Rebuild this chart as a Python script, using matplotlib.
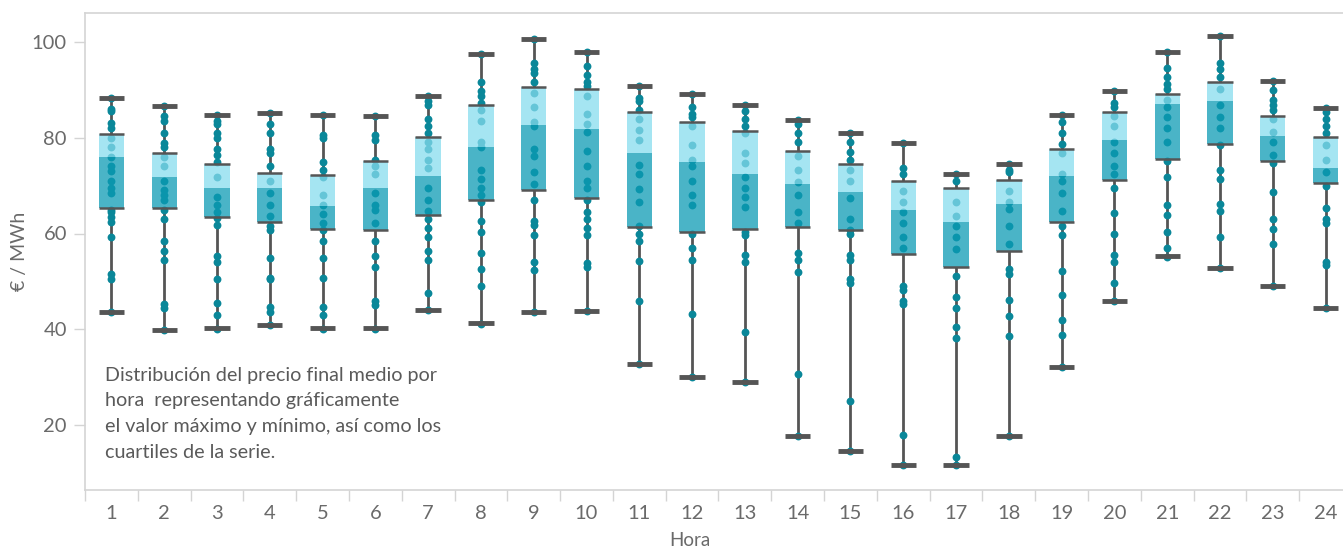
import matplotlib
matplotlib.use('Agg')
from matplotlib import pyplot as plt
from matplotlib.patches import Rectangle

plt.rcParams['font.family'] = ['Lato', 'DejaVu Sans']

horas = list(range(1, 25))

# resumen por hora: maximo, Q3, mediana, Q1, minimo
maximos = [88.3, 86.7, 84.8, 85.2, 84.8, 84.6, 88.75, 97.6, 100.7, 98.0, 90.9, 89.2,
           86.9, 83.75, 81.0, 78.9, 72.4, 74.5, 84.8, 89.8, 98.0, 101.2, 91.9, 86.25]
q3 = [80.7, 76.8, 74.6, 72.6, 72.2, 75.1, 80.1, 86.9, 90.7, 90.1, 85.4, 83.3,
      81.5, 77.3, 74.6, 71.0, 69.4, 71.2, 77.6, 85.4, 89.2, 91.6, 84.5, 80.1]
medianas = [76.0, 71.8, 69.6, 69.6, 65.7, 69.4, 72.1, 78.0, 82.6, 81.8, 76.8, 74.9,
            72.4, 70.3, 68.6, 65.0, 62.3, 66.1, 72.1, 79.5, 87.1, 87.6, 80.4, 73.6]
q1 = [65.4, 65.4, 63.4, 62.4, 60.9, 60.7, 63.8, 67.0, 69.0, 67.4, 61.3, 60.3,
      60.9, 61.3, 60.7, 55.7, 52.9, 56.4, 62.4, 71.2, 75.5, 78.75, 75.1, 70.5]
minimos = [43.5, 39.9, 40.3, 40.9, 40.3, 40.3, 44.1, 41.4, 43.5, 43.9, 32.8, 30.1,
           29.0, 17.6, 14.6, 11.6, 11.6, 17.6, 32.1, 46.0, 55.2, 52.7, 49.1, 44.5]

# precios diarios por hora
precios = [
    [88.3, 86, 85.5, 83, 82, 80, 78, 76, 74, 73, 71, 69.5, 68.5, 65, 64.5, 63.5, 62.5, 59.3, 51.5, 50.5, 43.5],
    [86.7, 84.5, 83.5, 81, 79, 78, 76, 74, 71, 69, 68, 67, 65, 63, 58.5, 56.3, 54.5, 45.3, 44.5, 39.8],
    [84.8, 83.5, 82.8, 81, 80, 77.6, 76.5, 75, 71.8, 67.7, 66, 64.5, 63.3, 61.8, 55.2, 54, 50.4, 45.4, 42.9, 40.1],
    [85.2, 82.8, 81, 77.6, 76.9, 74, 71, 68.5, 65.9, 63.7, 61.5, 60.7, 54.9, 50.8, 50.4, 44.7, 43.5, 40.9],
    [84.8, 80.6, 79.9, 75, 73.2, 71.8, 68.1, 65.9, 64, 62.2, 60.7, 58.5, 54.9, 50.8, 44.6, 42.9, 40.1],
    [84.6, 80.6, 79.5, 75.4, 74, 72.5, 68.5, 66, 65, 62.2, 58.5, 55.2, 53, 46, 45, 40.1],
    [88.75, 87.6, 86.8, 83.9, 82.4, 81, 79.1, 77.7, 75.4, 73.6, 69.6, 67, 64.8, 63, 61.1, 59.3, 56.3, 54.5, 47.5, 44],
    [97.6, 91.6, 89.8, 88.7, 87.2, 85.7, 83.5, 79.1, 78, 73.2, 71.4, 69.6, 68.1, 66.6, 62.6, 60.4, 56, 52.6, 49, 41.2],
    [100.7, 95.7, 94.3, 93.5, 91.6, 89.4, 86.5, 83.2, 82.4, 77.6, 76.2, 72.9, 70.3, 67, 62.6, 61.8, 59.6, 54.1, 52.3, 43.5],
    [98, 94.9, 93.1, 91.6, 90.9, 88.7, 85, 82.8, 81.3, 77.3, 74, 71, 69.6, 67, 64.4, 63, 61.1, 59.6, 53.8, 53, 43.8],
    [90.9, 88.3, 87.6, 85.7, 83.9, 81.7, 79.5, 74.3, 72.5, 69.2, 66.6, 61.5, 60, 58.5, 54.3, 45.8, 32.8],
    [89.2, 86.5, 85, 84.3, 82.4, 78.4, 75.4, 74, 71, 68, 65.9, 60, 57, 54.5, 43.1, 30.1],
    [86.9, 85.5, 84, 82.4, 81, 76.9, 74.7, 71.8, 69.6, 67.7, 65.5, 60.4, 59.6, 55.6, 54.1, 39.4, 29],
    [83.75, 82.8, 81, 79.1, 76.2, 73.2, 70.7, 68.1, 64.4, 62.2, 56, 54.5, 52, 30.6, 17.6],
    [81, 79.1, 77, 75.4, 73.2, 71, 67.4, 63, 60.7, 59.9, 55.6, 54.5, 50.4, 49.7, 25, 14.6],
    [78.9, 73.6, 72.5, 68.8, 66.6, 64.4, 62.2, 59.3, 57, 49, 48.2, 46, 45.3, 17.9, 11.6],
    [72.4, 71, 66.6, 63.7, 61.5, 59.3, 56.7, 51.2, 46.8, 44.4, 40.5, 38.1, 13.3, 11.6],
    [74.5, 73.2, 72.8, 68.8, 66.6, 65.1, 61.5, 57.8, 52.6, 51.5, 46.2, 42.7, 38.5, 17.6],
    [84.8, 83.2, 81, 78.8, 76.9, 72.5, 71, 68.5, 64.8, 61.5, 59.6, 52.1, 47.1, 42, 38.7, 32.1],
    [89.8, 87.2, 86.5, 84.6, 82.4, 79.1, 76.9, 74, 72.5, 69.6, 64.3, 60, 55.6, 54.1, 49.7, 46],
    [98, 94.6, 92.7, 91.2, 90.1, 87.9, 86.5, 84.3, 82.1, 79.1, 75.1, 71.8, 65.9, 63.8, 60.4, 57, 55.1],
    [101.2, 95.7, 94.3, 92.7, 90.1, 86.8, 84.3, 82.1, 78.4, 73.2, 71.4, 66.2, 64.8, 59.3, 52.7],
    [91.9, 90, 87.9, 86.8, 85.7, 83.9, 81.3, 79.1, 76.5, 74.7, 68.6, 63.1, 61, 57.8, 49.1],
    [86.25, 85.4, 83.9, 82.4, 81, 78.4, 75.4, 72.9, 69.9, 65.4, 63.1, 62.2, 54.1, 53.4, 44.5],
]

lineas_texto = ['Distribución del precio final medio por',
                'hora  representando gráficamente',
                'el valor máximo y mínimo, así como los',
                'cuartiles de la serie.']

gris = '#555555'
punto = '#0A8799'
texto_gris = '#6a6a6a'
ancho = 0.48

fig = plt.figure(figsize=(13.43, 5.5), dpi=100)
ax = fig.add_axes([85 / 1343, 1 - 490 / 550, 1 - 85 / 1343, 477 / 550])

for i, h in enumerate(horas):
    ax.vlines(h, minimos[i], q1[i], color=gris, lw=2, zorder=2)
    ax.vlines(h, q3[i], maximos[i], color=gris, lw=2, zorder=2)
    ax.scatter([h] * len(precios[i]), precios[i], s=32, color=punto, lw=0, zorder=3)
    ax.add_patch(Rectangle((h - ancho / 2, q1[i]), ancho, medianas[i] - q1[i],
                           facecolor='#0B9AB4', alpha=0.74, lw=0, zorder=4))
    ax.add_patch(Rectangle((h - ancho / 2, medianas[i]), ancho, q3[i] - medianas[i],
                           facecolor='#86DCEE', alpha=0.74, lw=0, zorder=4))
    ax.hlines([q1[i], q3[i]], h - ancho / 2, h + ancho / 2, color=gris, lw=1.8, zorder=5)
    ax.hlines([minimos[i], maximos[i]], h - ancho / 2, h + ancho / 2, color=gris, lw=3.5, zorder=5)

ax.set_xlim(0.5, 24.33)
ax.set_ylim(6.42, 106.06)

ax.set_xticks(horas)
ax.set_xticklabels([str(h) for h in horas])
ax.set_xticks([h + 0.5 for h in range(0, 24)], minor=True)
ax.tick_params(axis='x', which='major', length=0, pad=11, labelsize=14.5, labelcolor=texto_gris)
ax.tick_params(axis='x', which='minor', length=8, width=1, color='#d4d4d4')
ax.set_yticks([20, 40, 60, 80, 100])
ax.tick_params(axis='y', length=8, width=1, color='#d4d4d4', pad=5, labelsize=14.5, labelcolor=texto_gris)

for side in ['left', 'bottom', 'top']:
    ax.spines[side].set_color('#d4d4d4')
    ax.spines[side].set_linewidth(1.2)
ax.spines['right'].set_visible(False)

ax.set_ylabel('€ / MWh', fontsize=14, color=texto_gris, va='center')
ax.yaxis.set_label_coords(-(85 - 20) / (1343 - 85), 0.5)
ax.set_xlabel('Hora', fontsize=13.5, color=texto_gris, va='center')
ax.xaxis.set_label_coords((690 - 85) / (1343 - 85), -(540 - 490) / 477)

for k, linea in enumerate(lineas_texto):
    fig.text(105 / 1343, 1 - (375 + k * 25.7) / 550, linea, fontsize=14.2,
             color='#5a5a5a', va='center', ha='left')

plt.savefig('out.png', dpi=100)
plt.close(fig)
